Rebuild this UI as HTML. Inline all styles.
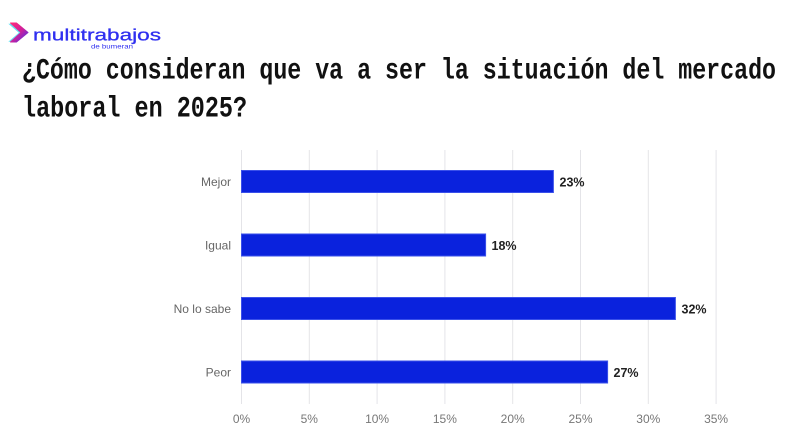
<!DOCTYPE html>
<html>
<head>
<meta charset="utf-8">
<style>
html,body{margin:0;padding:0;background:#fff;}
svg{display:block;}
</style>
</head>
<body>
<svg width="800" height="444" viewBox="0 0 800 444" xmlns="http://www.w3.org/2000/svg">
  <rect width="800" height="444" fill="#ffffff"/>
  <defs>
    <linearGradient id="chev" x1="0" y1="0" x2="1" y2="1">
      <stop offset="0" stop-color="#ff2a7a"/>
      <stop offset="0.5" stop-color="#d0209a"/>
      <stop offset="1" stop-color="#3a30f0"/>
    </linearGradient>
  </defs>
  <!-- logo -->
  <path d="M9.5,23.5 L15.5,23.5 L27,32.5 L15.5,41.5 L9.5,41.5 L20,32.5 Z" fill="#22d8f0" opacity="0.7" transform="translate(-1.2,0.3)"/>
  <path d="M10.5,23 L16.5,23 L28,32.5 L16.5,42 L10.5,42 L21,32.5 Z" fill="url(#chev)" stroke="url(#chev)" stroke-width="1" stroke-linejoin="round"/>
  <text x="33" y="40.5" font-family="Liberation Sans, sans-serif" font-size="17" fill="#2f2ff0" stroke="#2f2ff0" stroke-width="0.3" textLength="128" lengthAdjust="spacingAndGlyphs">multitrabajos</text>
  <text x="91" y="48.5" font-family="Liberation Sans, sans-serif" font-size="6.5" fill="#2f2ff0" textLength="42" lengthAdjust="spacingAndGlyphs">de bumeran</text>

  <!-- title -->
  <text x="22" y="78.5" font-family="Liberation Mono, DejaVu Sans Mono, monospace" font-weight="bold" font-size="30" fill="#111" textLength="754" lengthAdjust="spacingAndGlyphs">¿Cómo consideran que va a ser la situación del mercado</text>
  <text x="22" y="116.5" font-family="Liberation Mono, DejaVu Sans Mono, monospace" font-weight="bold" font-size="30" fill="#111" textLength="225" lengthAdjust="spacingAndGlyphs">laboral en 2025?</text>

  <!-- gridlines -->
  <g stroke="#e4e4e8" stroke-width="1">
    <line x1="241.5" y1="150" x2="241.5" y2="404"/>
    <line x1="309.3" y1="150" x2="309.3" y2="404"/>
    <line x1="377.1" y1="150" x2="377.1" y2="404"/>
    <line x1="444.9" y1="150" x2="444.9" y2="404"/>
    <line x1="512.7" y1="150" x2="512.7" y2="404"/>
    <line x1="580.5" y1="150" x2="580.5" y2="404"/>
    <line x1="648.3" y1="150" x2="648.3" y2="404"/>
    <line x1="716.1" y1="150" x2="716.1" y2="404"/>
  </g>

  <!-- bars -->
  <g fill="#0a22dd" stroke="#3a50ea" stroke-width="1">
    <rect x="241.5" y="170.5" width="311.9" height="22"/>
    <rect x="241.5" y="234" width="244.1" height="22"/>
    <rect x="241.5" y="297.5" width="433.9" height="22"/>
    <rect x="241.5" y="361" width="366.1" height="22"/>
  </g>

  <!-- category labels -->
  <g font-family="Liberation Sans, Arial, sans-serif" font-size="12" fill="#666" text-anchor="end">
    <text x="231" y="186">Mejor</text>
    <text x="231" y="249.5">Igual</text>
    <text x="231" y="313">No lo sabe</text>
    <text x="231" y="376.5">Peor</text>
  </g>

  <!-- value labels -->
  <g font-family="Liberation Sans, Arial, sans-serif" font-size="12.5" font-weight="bold" fill="#222">
    <text x="559.5" y="186.5">23%</text>
    <text x="491.5" y="250">18%</text>
    <text x="681.5" y="313.5">32%</text>
    <text x="613.5" y="377">27%</text>
  </g>

  <!-- tick labels -->
  <g font-family="Liberation Sans, Arial, sans-serif" font-size="12" fill="#777" text-anchor="middle">
    <text x="241.5" y="423">0%</text>
    <text x="309.3" y="423">5%</text>
    <text x="377.1" y="423">10%</text>
    <text x="444.9" y="423">15%</text>
    <text x="512.7" y="423">20%</text>
    <text x="580.5" y="423">25%</text>
    <text x="648.3" y="423">30%</text>
    <text x="716.1" y="423">35%</text>
  </g>
</svg>
</body>
</html>
